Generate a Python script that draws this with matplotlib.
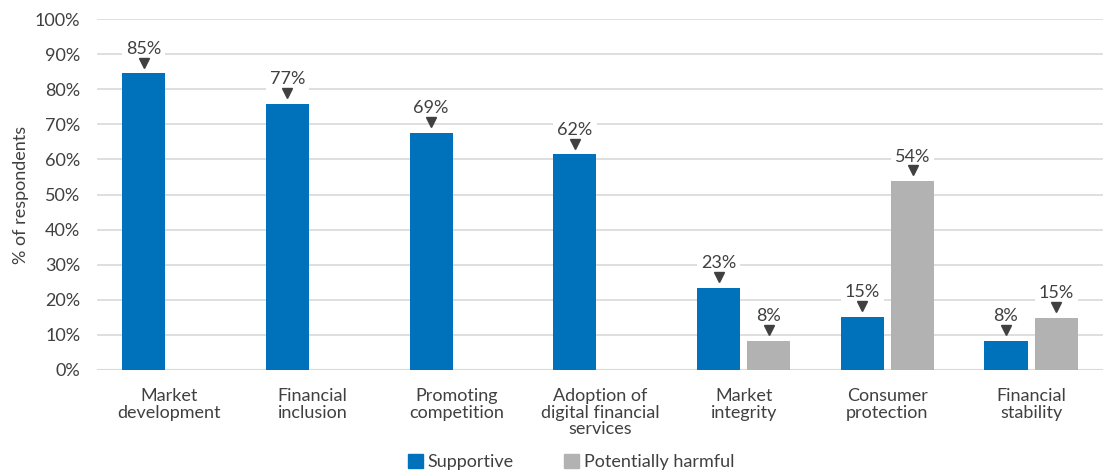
import matplotlib
matplotlib.use("Agg")
import matplotlib.pyplot as plt
from matplotlib.patches import Patch
import numpy as np

plt.rcParams['font.family'] = ['Lato', 'DejaVu Sans']

# data
categories = ['Market\ndevelopment', 'Financial\ninclusion', 'Promoting\ncompetition',
              'Adoption of\ndigital financial\nservices', 'Market\nintegrity',
              'Consumer\nprotection', 'Financial\nstability']
supportive = [84.5, 75.8, 67.6, 61.4, 23.4, 15.1, 8.4]
supportive_lbl = ['85%', '77%', '69%', '62%', '23%', '15%', '8%']
harmful = [None, None, None, None, 8.4, 53.8, 14.8]
harmful_lbl = [None, None, None, None, '8%', '54%', '15%']

blue = '#0072BC'
grey = '#B2B2B2'
txt = '#404040'

fig = plt.figure(figsize=(11.14, 4.76), dpi=100)
ax = fig.add_axes([97/1114, 106/476, 1006/1114, 351/476])

x = np.arange(len(categories))
w = 0.30
off = 0.175

def label(xpos, val, s):
    ax.text(xpos, val + 7.0, s, ha='center', va='center', fontsize=13, color=txt,
            bbox=dict(facecolor='white', edgecolor='none', pad=3), zorder=4)
    ax.plot(xpos, val + 3.1, marker='v', color=txt, markersize=7.5, zorder=5)

for i in range(len(categories)):
    ax.bar(x[i] - off, supportive[i], width=w, color=blue, zorder=3)
    label(x[i] - off, supportive[i], supportive_lbl[i])
    if harmful[i] is not None:
        ax.bar(x[i] + off, harmful[i], width=w, color=grey, zorder=3)
        label(x[i] + off, harmful[i], harmful_lbl[i])

ax.set_xlim(-0.5, len(categories) - 0.5)
ax.set_ylim(0, 100)
ax.set_yticks(range(0, 101, 10))
ax.set_yticklabels([f'{v}%' for v in range(0, 101, 10)], fontsize=13, color=txt)
ax.set_xticks(x)
ax.set_xticklabels(categories, fontsize=13, color=txt, linespacing=1.05)
ax.tick_params(axis='both', length=0)
ax.tick_params(axis='x', pad=13)
ax.tick_params(axis='y', pad=12)
ax.grid(axis='y', color='#D9D9D9', linewidth=1.2, zorder=0)
for s in ax.spines.values():
    s.set_visible(False)
ax.axhline(0, color='#D9D9D9', linewidth=1.5, zorder=2)
ax.set_ylabel('% of respondents', fontsize=13, color=txt, labelpad=4)

handles = [Patch(color=blue, label='Supportive'), Patch(color=grey, label='Potentially harmful')]
fig.legend(handles=handles, loc='center', bbox_to_anchor=(571/1114, 1 - 462/476), ncol=2,
           frameon=False, fontsize=13, labelcolor=txt, handlelength=0.85, handleheight=0.85,
           handletextpad=0.25, columnspacing=2.8)

fig.savefig('out.png', dpi=100)
